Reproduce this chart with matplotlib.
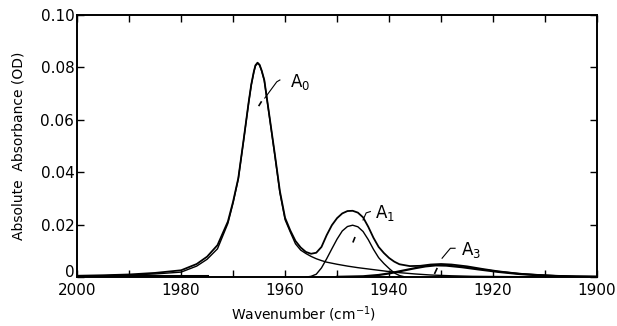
import matplotlib.pyplot as plt

# wavenumber (cm-1) and absorbance
wn_total = [2000, 1995, 1990, 1985, 1980, 1977, 1975, 1973, 1971, 1970, 1969, 1968, 1967, 1966.5,
            1966, 1965.7, 1965.3, 1964.9, 1964.5, 1964, 1963, 1962, 1961, 1960, 1959, 1958, 1957,
            1956, 1955, 1954, 1953, 1952, 1951, 1950, 1949, 1948, 1947, 1946, 1945, 1944, 1943,
            1942, 1941, 1940, 1939, 1938, 1936, 1934, 1932, 1930, 1928, 1925, 1922, 1919, 1915,
            1912, 1908, 1904, 1900]
abs_total = [0.0005, 0.0007, 0.0010, 0.0016, 0.0026, 0.0050, 0.0078, 0.0122, 0.0212, 0.0288,
             0.0377, 0.0520, 0.0668, 0.0735, 0.0785, 0.0808, 0.0818, 0.0810, 0.0788, 0.0752,
             0.0613, 0.0473, 0.0328, 0.0226, 0.0178, 0.0138, 0.0113, 0.0096, 0.0089, 0.0093,
             0.0115, 0.0160, 0.0198, 0.0225, 0.0243, 0.0252, 0.0253, 0.0246, 0.0228, 0.0192,
             0.0150, 0.0115, 0.0092, 0.0073, 0.0059, 0.0049, 0.0042, 0.0043, 0.0048, 0.0050,
             0.0048, 0.0041, 0.0031, 0.0022, 0.0013, 0.0009, 0.0005, 0.0003, 0.0002]

wn_a0 = [2000, 1995, 1990, 1985, 1980, 1977, 1975, 1973, 1971, 1970, 1969, 1968, 1967, 1966.5,
         1966, 1965.7, 1965.3, 1964.9, 1964.5, 1964, 1963, 1962, 1961, 1960, 1959, 1958, 1957,
         1956, 1955, 1954, 1953, 1952, 1950, 1948, 1946, 1944, 1942, 1940, 1938, 1935, 1932,
         1928, 1924, 1918, 1910, 1900]
abs_a0 = [0.0003, 0.0005, 0.0008, 0.0012, 0.0019, 0.0042, 0.0068, 0.0108, 0.0205, 0.0283,
          0.0374, 0.0518, 0.0666, 0.0733, 0.0783, 0.0806, 0.0816, 0.0808, 0.0786, 0.0750,
          0.0610, 0.0468, 0.0322, 0.0219, 0.0172, 0.0127, 0.0103, 0.0090, 0.0079, 0.0070,
          0.0063, 0.0057, 0.0049, 0.0042, 0.0036, 0.0031, 0.0026, 0.0021, 0.0017, 0.0012,
          0.0008, 0.0005, 0.0003, 0.0002, 0.0001, 0.0]

wn_a1 = [1956, 1955, 1954, 1953, 1952, 1951, 1950, 1949, 1948, 1947, 1946, 1945, 1944, 1943,
         1942, 1941, 1940, 1939, 1938, 1937]
abs_a1 = [0.0, 0.0003, 0.0011, 0.0035, 0.0070, 0.0108, 0.0145, 0.0176, 0.0193, 0.0198, 0.0192,
          0.0174, 0.0143, 0.0106, 0.0074, 0.0052, 0.0033, 0.0016, 0.0006, 0.0001]

wn_a3 = [1950, 1945, 1942, 1940, 1938, 1935, 1933, 1931, 1929, 1926, 1923, 1919, 1915, 1912,
         1908, 1904, 1900]
abs_a3 = [0.0001, 0.0003, 0.0008, 0.0014, 0.0022, 0.0034, 0.0041, 0.0045, 0.0044, 0.0038,
          0.0030, 0.0020, 0.0012, 0.0008, 0.0004, 0.0002, 0.0001]

fig = plt.figure(figsize=(6.17, 3.26), dpi=100)
ax = fig.add_axes([0.125, 0.150, 0.8426, 0.804])

ax.plot(wn_total, abs_total, color='black', lw=1.3)
ax.plot(wn_a0, abs_a0, color='black', lw=1.0)
ax.plot(wn_a1, abs_a1, color='black', lw=1.0)
ax.plot(wn_a3, abs_a3, color='black', lw=1.6)
ax.plot([2000, 1975], [0.0003, 0.0003], color='black', lw=2.2)

# labels with leader lines
ax.text(1959.0, 0.0745, 'A$_0$', fontsize=12, ha='left', va='center')
ax.plot([1961.0, 1961.6, 1963.9], [0.0752, 0.0745, 0.0683], color='black', lw=0.8)
ax.plot([1965.0, 1964.6], [0.0655, 0.0668], color='black', lw=1.2)

ax.text(1942.7, 0.0245, 'A$_1$', fontsize=12, ha='left', va='center')
ax.plot([1943.6, 1944.4, 1945.0], [0.0250, 0.0245, 0.0218], color='black', lw=0.8)
ax.plot([1946.9, 1946.6], [0.0135, 0.0150], color='black', lw=1.2)

ax.text(1926.2, 0.0105, 'A$_3$', fontsize=12, ha='left', va='center')
ax.plot([1927.3, 1928.2, 1929.8], [0.0110, 0.0110, 0.0072], color='black', lw=0.8)
ax.plot([1931.2, 1930.8], [0.0015, 0.0032], color='black', lw=1.2)

ax.set_xlim(2000, 1900)
ax.set_ylim(0, 0.10)
ax.set_xticks([2000, 1980, 1960, 1940, 1920, 1900])
ax.set_xticklabels(['2000', '1980', '1960', '1940', '1920', '1900'])
ax.set_xticks([1990, 1970, 1950, 1930, 1910], minor=True)
ax.set_yticks([0, 0.02, 0.04, 0.06, 0.08, 0.10])
ax.set_yticklabels(['0', '0.02', '0.04', '0.06', '0.08', '0.10'])
ax.tick_params(which='both', direction='in', top=True, right=True, labelsize=11, width=1.0)
ax.tick_params(which='both', length=5)
ax.tick_params(axis='y', pad=2)
ax.tick_params(axis='x', pad=4)
ax.get_yticklabels()[0].set_va('baseline')
for s in ax.spines.values():
    s.set_linewidth(1.4)

ax.set_xlabel('Wavenumber (cm$^{-1}$)', fontsize=10)
ax.xaxis.set_label_coords(0.435, -0.105)
ax.set_ylabel('Absolute  Absorbance (OD)', fontsize=10)
ax.yaxis.set_label_coords(-0.1, 0.5)

fig.savefig('out.png', dpi=100)
